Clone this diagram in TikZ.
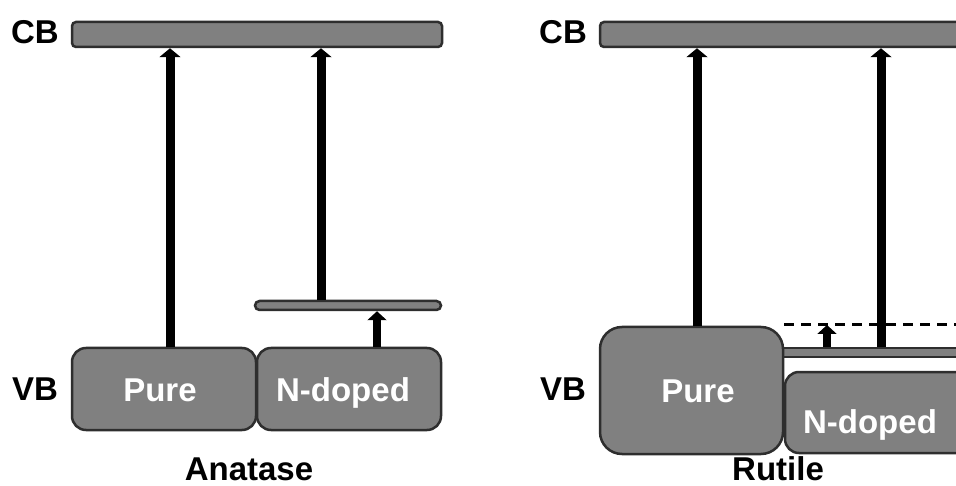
\documentclass[tikz,border=0pt]{standalone}
\usepackage{fontspec}
\setmainfont{Liberation Sans}
\usetikzlibrary{arrows.meta}
\definecolor{boxfill}{HTML}{808080}
\definecolor{boxline}{HTML}{2E2E2E}
\tikzset{
  band/.style={draw=boxline, fill=boxfill, line width=2.5pt, rectangle, inner sep=0pt},
  lbl/.style={font=\fontsize{33}{33}\selectfont\bfseries, inner sep=0pt, text height=23.6pt, text depth=0pt},
  boxtxt/.style={lbl, text=white},
  arr/.style={line width=9pt, -{Triangle[width=21pt,length=9pt]}},
  sarr/.style={line width=8.5pt, -{Triangle[width=19pt,length=9pt]}},
  level/.style={line width=3pt, dash pattern=on 10pt off 7pt}
}
\begin{document}
\begin{tikzpicture}[x=1pt,y=-1pt]
\useasboundingbox (0,0) rectangle (956,486);
\clip (0,0) rectangle (956,486);
\fill[white] (0,0) rectangle (956,486);
% ---------------- Anatase ----------------
\node[band, rounded corners=4pt, minimum width=370pt, minimum height=25pt] (cbA) at (257,34.5) {};
\node[band, rounded corners=4.5pt, minimum width=186pt, minimum height=9pt] (midA) at (348,305.5) {};
\node[band, rounded corners=14pt, minimum width=184pt, minimum height=82pt] (pureA) at (164,389) {};
\node[band, rounded corners=14pt, minimum width=184pt, minimum height=82pt] (ndA) at (349,389) {};
\draw[arr] ([xshift=6pt]pureA.north) -- ([xshift=6pt]pureA.north |- cbA.south);
\draw[arr] ([xshift=-27pt]midA.north) -- ([xshift=-27pt]midA.north |- cbA.south);
\draw[sarr] ([xshift=28pt]ndA.north) -- ([xshift=28pt]ndA.north |- midA.south);
\node[boxtxt] (tpA) at (160,389.5) {Pure};
\node[boxtxt] (tnA) at (343,389.5) {N-doped};
\node[lbl] (cbAl) at (35,31.5) {CB};
\node[lbl] (vbAl) at (35,389) {VB};
\node[lbl] (anat) at (249,469) {Anatase};
% ---------------- Rutile ----------------
\node[band, rounded corners=4pt, minimum width=400pt, minimum height=25pt] (cbR) at (800,34.5) {};
\node[band, minimum width=200pt, minimum height=9pt] (barR) at (875,352.5) {};
\node[band, rounded corners=14pt, minimum width=215pt, minimum height=81pt] (ndR) at (892.5,412.5) {};
\node[band, rounded corners=22pt, minimum width=183pt, minimum height=127pt] (pureR) at (691.5,390.5) {};
\coordinate (dashL) at (pureR.north east |- 0,325);
\coordinate (dashR) at (956,325);
\draw[level] (dashL) -- (dashR);
\draw[arr] ([xshift=5.5pt]pureR.north) -- ([xshift=5.5pt]pureR.north |- cbR.south);
\draw[arr] (barR.north -| 881,0) -- (cbR.south -| 881,0);
\draw[sarr] (barR.north -| 827,0) -- (dashL -| 827,0);
\node[boxtxt] (tpR) at (698,391) {Pure};
\node[boxtxt] (tnR) at (870,421.5) {N-doped};
\node[lbl] (cbRl) at (563,31.5) {CB};
\node[lbl] (vbRl) at (563,389) {VB};
\node[lbl] (rut) at (778,469) {Rutile};
\end{tikzpicture}
\end{document}
